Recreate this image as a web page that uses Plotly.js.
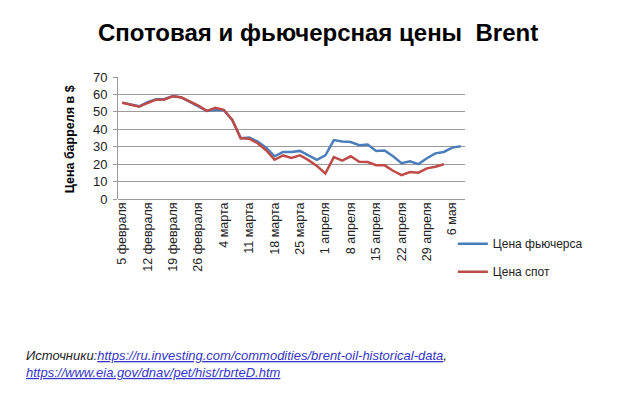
<!DOCTYPE html>
<html>
<head>
<meta charset="utf-8">
<script src="https://cdn.plot.ly/plotly-3.0.1.min.js"></script>
<style>
html,body{margin:0;padding:0;background:#fff;}
#chart{width:640px;height:394px;}
</style>
</head>
<body>
<div id="chart"></div>
<script>
var dates = ["5 февраля","7 февраля","10 февраля","12 февраля","14 февраля","17 февраля","19 февраля","21 февраля","24 февраля","26 февраля","28 февраля","2 марта","4 марта","6 марта","9 марта","11 марта","13 марта","16 марта","18 марта","20 марта","23 марта","25 марта","27 марта","30 марта","1 апреля","3 апреля","6 апреля","8 апреля","10 апреля","13 апреля","15 апреля","17 апреля","20 апреля","22 апреля","24 апреля","27 апреля","29 апреля","1 мая","4 мая","6 мая","8 мая"];
var futures = [55.3,54.2,53.2,55.6,57.3,57.4,59.1,58.3,55.6,53.0,50.5,51.2,50.9,45.3,34.9,35.3,33.0,29.5,24.5,27.0,27.0,27.6,25.0,22.5,25.0,33.8,33.0,32.7,30.9,31.2,27.6,27.8,24.5,20.5,21.6,20.0,23.4,26.2,27.0,29.5,30.3];
var spot = [55.2,54.1,52.9,55.1,57.0,57.1,59.0,58.2,55.9,53.6,50.6,52.3,51.2,45.4,34.8,34.6,32.0,28.0,22.5,25.0,23.6,25.1,22.3,19.0,14.6,24.0,22.0,24.5,21.3,21.2,19.4,19.3,16.2,13.7,15.5,15.1,17.6,18.5,19.9,null,null];
var labelStep = 3;
var tickDates = dates.filter(function(d,i){return i % labelStep === 0;});

var traces = [
  {x: dates, y: futures, type:'scatter', mode:'lines', name:'Цена фьючерса', legendgroup:'a',
   line:{color:'#4a7ebb', width:2.5}},
  {x: dates, y: spot, type:'scatter', mode:'lines', name:'Цена спот', legendgroup:'b',
   line:{color:'#be4b48', width:2.5}}
];

var layout = {
  width:640, height:394,
  margin:{l:118, r:175, t:77, b:195},
  paper_bgcolor:'#fff', plot_bgcolor:'#fff',
  font:{family:'Liberation Sans, Arial, sans-serif', color:'#222'},
  title:{text:'<b>Спотовая и фьючерсная цены  Brent</b>', x:0.497, xref:'container', xanchor:'center',
         y:0.916, yref:'container', yanchor:'middle',
         font:{family:'Liberation Sans, Arial, sans-serif', size:24, color:'#000'}},
  xaxis:{type:'category', categoryorder:'array', categoryarray: dates,
         range:[-0.5, 40.5], tickmode:'array', tickvals: tickDates, ticktext: tickDates,
         tickangle:-90, showgrid:false, zeroline:false, showline:false, ticks:'',
         tickfont:{size:12.5, color:'#222'}, fixedrange:true},
  yaxis:{range:[0,70], dtick:10, showgrid:true, gridcolor:'#9a9a9a', gridwidth:1,
         zeroline:true, zerolinecolor:'#9a9a9a', zerolinewidth:1,
         showline:true, linecolor:'#9a9a9a', linewidth:1, ticks:'outside', ticklen:4, tickcolor:'#9a9a9a',
         ticklabelstandoff:3,
         tickfont:{size:13, color:'#222'}, fixedrange:true},
  showlegend:true,
  legend:{x:0.965, xanchor:'left', y:-0.247, yanchor:'top', traceorder:'grouped', tracegroupgap:9,
          font:{size:12, color:'#222'}, bgcolor:'rgba(0,0,0,0)'},
  annotations:[
    {text:'<b>Цена барреля в $</b>', textangle:-90, xref:'paper', yref:'paper',
     x:-0.138, y:0.49, xanchor:'center', yanchor:'middle', showarrow:false,
     font:{size:12.5, color:'#000'}},
    {text:'<i>Источники:</i><span style="color:#3535c8"><i><u>https://ru.investing.com/commodities/brent-oil-historical-data</u></i></span><i>,</i><br><span style="color:#3535c8"><i><u>https://www.eia.gov/dnav/pet/hist/rbrteD.htm</u></i></span>',
     xref:'paper', yref:'paper', x:-0.272, y:-1.205, xanchor:'left', yanchor:'top', align:'left',
     showarrow:false, font:{size:13, color:'#222'}}
  ]
};
Plotly.newPlot('chart', traces, layout, {displayModeBar:false, staticPlot:true});
</script>
</body>
</html>
